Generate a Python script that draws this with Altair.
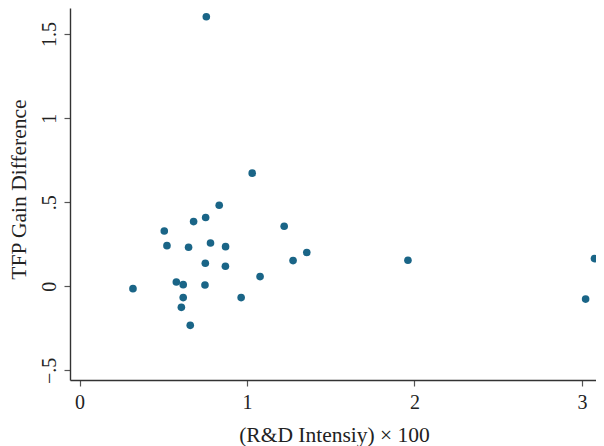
import altair as alt
import pandas as pd

# R&D intensity x 100 and TFP gain difference
rd_intensity = [0.757, 1.031, 0.506, 0.681, 0.753, 0.834, 1.222, 0.522, 0.651,
                0.782, 0.872, 0.751, 0.871, 1.357, 1.275, 1.078, 0.319, 0.578,
                0.619, 0.749, 0.619, 0.965, 0.608, 0.661, 1.961, 3.075, 3.022]
tfp_gain_diff = [1.603, 0.673, 0.329, 0.385, 0.409, 0.482, 0.357, 0.242, 0.232,
                 0.258, 0.236, 0.137, 0.119, 0.201, 0.153, 0.058, -0.014, 0.026,
                 0.010, 0.008, -0.067, -0.067, -0.125, -0.232, 0.155, 0.165, -0.076]

x_ticks = [0, 1, 2, 3]
y_ticks = [-0.5, 0, 0.5, 1, 1.5]
y_tick_labels = ["\u2212.5", "0", ".5", "1", "1.5"]

df = pd.DataFrame({"rd": rd_intensity, "tfp": tfp_gain_diff})

y_label_expr = " : ".join(
    [f"datum.value == {v} ? '{l}'" for v, l in zip(y_ticks, y_tick_labels)]
) + " : ''"

FONT = "Liberation Serif"
TEXT = "#222222"

chart = alt.Chart(df).mark_circle(size=58, opacity=1, color="#1a6587").encode(
    x=alt.X("rd:Q",
            scale=alt.Scale(domain=[-0.057, 3.084], nice=False, zero=False),
            axis=alt.Axis(values=x_ticks, title="(R&D Intensiy) \u00d7 100",
                          grid=False, tickSize=6, labelPadding=6,
                          titleX=264, titleY=61, titleBaseline="alphabetic",
                          titleAlign="center")),
    y=alt.Y("tfp:Q",
            scale=alt.Scale(domain=[-0.557, 1.655], nice=False, zero=False),
            axis=alt.Axis(values=y_ticks, labelExpr=y_label_expr,
                          title="TFP Gain Difference", grid=False, tickSize=6,
                          labelAngle=270, labelAlign="center",
                          labelBaseline="alphabetic", labelPadding=9,
                          titleAngle=270, titleX=-51, titleY=181,
                          titleAlign="center", titleBaseline="middle")),
).properties(
    width=526,
    height=372,
    autosize=alt.AutoSizeParams(type="none"),
    padding={"left": 62, "top": 0, "right": 0, "bottom": 68},
    background="white",
).configure_view(
    stroke=None
).configure_axis(
    domainColor="#333333",
    domainWidth=1.4,
    tickColor="#555555",
    tickWidth=1.2,
    labelFont=FONT,
    labelFontSize=20,
    labelColor=TEXT,
    titleFont=FONT,
    titleFontSize=21.5,
    titleFontWeight="normal",
    titleColor=TEXT,
)

chart.save("out.html", embed_options={"renderer": "svg", "actions": False})
